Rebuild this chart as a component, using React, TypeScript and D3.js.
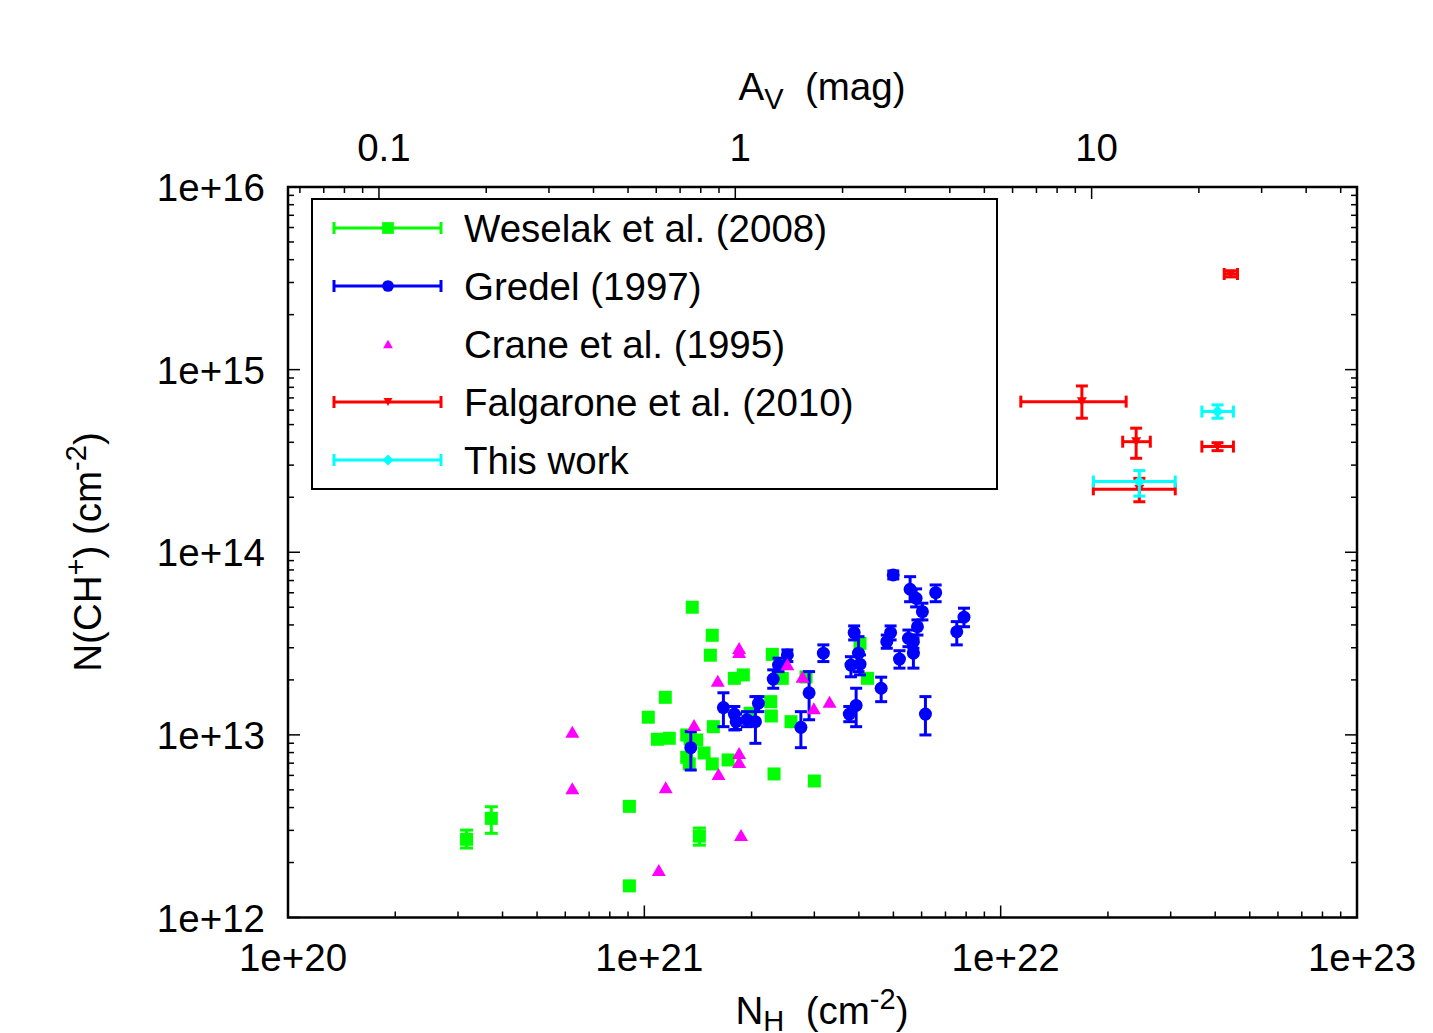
import React from 'react';
import * as d3 from 'd3';

const AV_FACTOR = 1.8e21; // N_H per magnitude of A_V

// Axis tick labels
const xMajor = [1e20, 1e21, 1e22, 1e23];
const xMajorLabels = ['1e+20', '1e+21', '1e+22', '1e+23'];
const yMajor = [1e12, 1e13, 1e14, 1e15, 1e16];
const yMajorLabels = ['1e+12', '1e+13', '1e+14', '1e+15', '1e+16'];
const avMajor = [0.1, 1, 10];
const avMajorLabels = ['0.1', '1', '10'];

// Weselak et al. (2008): [N_H, N(CH+), yLow, yHigh]
const weselak = [
  [3.17e20, 2.68e12, 2.4e12, 3.01e12],
  [3.72e20, 3.49e12, 2.89e12, 4.04e12],
  [9.08e20, 4.06e12],
  [9.08e20, 1.49e12],
  [1.026e21, 1.249e13],
  [1.088e21, 9.46e12],
  [1.175e21, 9.58e12],
  [1.145e21, 1.606e13],
  [1.363e21, 5.0e13],
  [1.551e21, 3.51e13],
  [1.532e21, 2.73e13],
  [1.344e21, 9.5e12],
  [1.315e21, 7.54e12],
  [1.337e21, 6.93e12],
  [1.315e21, 9.99e12],
  [1.403e21, 9.38e12],
  [1.471e21, 7.96e12],
  [1.562e21, 1.109e13],
  [1.551e21, 6.93e12],
  [1.718e21, 7.29e12],
  [1.789e21, 2.04e13],
  [1.896e21, 2.13e13],
  [1.98e21, 1.313e13],
  [1.427e21, 2.79e12, 2.49e12, 3.09e12],
  [2.263e21, 1.52e13],
  [2.272e21, 1.269e13],
  [2.287e21, 2.76e13],
  [2.439e21, 2.04e13],
  [2.312e21, 6.11e12],
  [2.58e21, 1.181e13],
  [2.843e21, 2.075e13],
  [3.0e21, 5.59e12],
  [4.03e21, 3.17e13],
  [4.23e21, 2.04e13],
];

// Gredel (1997): [N_H, N(CH+), yLow, yHigh]
const gredel = [
  [4.996e21, 7.51e13, 7.14e13, 7.9e13],
  [5.57e21, 6.27e13, 5.36e13, 7.35e13],
  [5.79e21, 5.6e13, 5.02e13, 6.3e13],
  [6.57e21, 6.01e13, 5.36e13, 6.62e13],
  [6.03e21, 4.73e13, 4.26e13, 5.26e13],
  [5.84e21, 3.91e13, 3.52e13, 4.26e13],
  [7.89e21, 4.41e13, 3.91e13, 4.94e13],
  [7.53e21, 3.67e13, 3.11e13, 4.17e13],
  [3.88e21, 3.63e13, 3.31e13, 3.95e13],
  [4.91e21, 3.63e13, 3.31e13, 3.95e13],
  [4.79e21, 3.24e13, 2.98e13, 3.52e13],
  [5.51e21, 3.38e13, 3.04e13, 3.75e13],
  [5.69e21, 3.24e13, 2.98e13, 3.52e13],
  [5.69e21, 2.8e13, 2.32e13, 3.38e13],
  [5.2e21, 2.6e13, 2.32e13, 2.89e13],
  [3.99e21, 2.8e13, 2.22e13, 3.45e13],
  [3.8e21, 2.41e13, 2.08e13, 2.68e13],
  [4.03e21, 2.44e13, 2.13e13, 2.74e13],
  [3.18e21, 2.8e13, 2.52e13, 3.11e13],
  [2.52e21, 2.74e13, 2.52e13, 2.92e13],
  [2.38e21, 2.41e13, 2.22e13, 2.63e13],
  [2.3e21, 2.02e13, 1.8e13, 2.27e13],
  [4.62e21, 1.8e13, 1.52e13, 2.07e13],
  [2.9e21, 1.7e13, 1.21e13, 2.22e13],
  [3.93e21, 1.45e13, 1.109e13, 1.8e13],
  [3.76e21, 1.3e13, 1.181e13, 1.43e13],
  [6.15e21, 1.3e13, 9.99e12, 1.62e13],
  [2.75e21, 1.1e13, 8.51e12, 1.34e13],
  [1.667e21, 1.41e13, 1.109e13, 1.7e13],
  [1.789e21, 1.3e13, 1.064e13, 1.43e13],
  [1.81e21, 1.181e13, 1.07e13, 1.3e13],
  [1.94e21, 1.21e13, 1.109e13, 1.34e13],
  [2.05e21, 1.181e13, 8.99e12, 1.62e13],
  [2.09e21, 1.49e13, 1.34e13, 1.62e13],
  [1.35e21, 8.51e12, 6.42e12, 1.041e13],
];

// Crane et al. (1995): [N_H, N(CH+)]
const crane = [
  [6.28e20, 1.041e13],
  [6.28e20, 5.1e12],
  [1.098e21, 1.82e12],
  [1.148e21, 5.16e12],
  [1.379e21, 1.133e13],
  [1.607e21, 1.98e13],
  [1.615e21, 6.11e12],
  [1.845e21, 2.99e13],
  [1.845e21, 2.84e13],
  [1.845e21, 7.96e12],
  [1.845e21, 7.11e12],
  [1.868e21, 2.83e12],
  [2.52e21, 2.44e13],
  [2.78e21, 2.08e13],
  [2.99e21, 1.4e13],
  [3.31e21, 1.52e13],
];

// Falgarone et al. (2010): [N_H, N(CH+), xLow, xHigh, yLow, yHigh]
const falgarone = [
  [4.42e22, 3.34e15, 4.24e22, 4.62e22, 3.22e15, 3.47e15],
  [1.69e22, 6.68e14, 1.139e22, 2.25e22, 5.42e14, 8.14e14],
  [2.4e22, 4.03e14, 2.2e22, 2.63e22, 3.27e14, 4.78e14],
  [4.06e22, 3.79e14, 3.67e22, 4.5e22, 3.6e14, 3.98e14],
  [2.45e22, 2.21e14, 1.82e22, 3.09e22, 1.89e14, 2.54e14],
];

// This work: [N_H, N(CH+), xLow, xHigh, yLow, yHigh]
const thisWork = [
  [4.06e22, 5.89e14, 3.67e22, 4.5e22, 5.42e14, 6.41e14],
  [2.45e22, 2.44e14, 1.82e22, 3.09e22, 2.03e14, 2.8e14],
];

const legendLabels = [
  'Weselak et al. (2008)',
  'Gredel (1997)',
  'Crane et al. (1995)',
  'Falgarone et al. (2010)',
  'This work',
];

const GREEN = '#00ff00';
const BLUE = '#0000ff';
const MAGENTA = '#ff00ff';
const RED = '#ff0000';
const CYAN = '#00ffff';

const FONT = "'Liberation Sans', Arial, Helvetica, sans-serif";
const FS = 38.5;
const SUB = 29;
const NB = '\u00a0';

type Shape = 'square' | 'circle' | 'triUp' | 'triDown' | 'diamond';

function Marker({ cx, cy, shape, color, s = 1 }: { cx: number; cy: number; shape: Shape; color: string; s?: number }) {
  if (shape === 'square') {
    const h = 6.5 * s;
    return <rect x={cx - h} y={cy - h} width={2 * h} height={2 * h} fill={color} />;
  }
  if (shape === 'circle') return <circle cx={cx} cy={cy} r={6.5 * s} fill={color} />;
  if (shape === 'triUp') {
    const w = 7 * s, h = 6 * s;
    return <path d={`M${cx - w},${cy + h}L${cx + w},${cy + h}L${cx},${cy - h}Z`} fill={color} />;
  }
  if (shape === 'triDown') {
    const w = 5 * s, h = 4.5 * s;
    return <path d={`M${cx - w},${cy - h}L${cx + w},${cy - h}L${cx},${cy + h}Z`} fill={color} />;
  }
  const d = 6 * s;
  return <path d={`M${cx},${cy - d}L${cx + d},${cy}L${cx},${cy + d}L${cx - d},${cy}Z`} fill={color} />;
}

export default function App() {
  const x = d3.scaleLog().domain([1e20, 1e23]).range([288, 1357]);
  const x2 = d3.scaleLog().domain([1e20 / AV_FACTOR, 1e23 / AV_FACTOR]).range([288, 1357]);
  const y = d3.scaleLog().domain([1e12, 1e16]).range([917.5, 187]);

  const [x0, x1] = x.range();
  const [yb, yt] = y.range();
  const isMajor = (v: number) => Math.abs(Math.log10(v) - Math.round(Math.log10(v))) < 1e-9;
  const MAJ = 12, MIN = 6;
  const SW = 3; // error bar stroke
  const CAP = 6;
  const LBL_DX = 5;

  const xTicks = x.ticks();
  const yTicks = y.ticks();
  const avTicks = x2.ticks().filter((v) => x2(v) >= x0 - 0.5 && x2(v) <= x1 + 0.5);

  const vErr = (px: number, lo: number, hi: number, color: string, cap = CAP, key?: string) => (
    <g key={key} stroke={color} strokeWidth={SW}>
      <line x1={px} x2={px} y1={y(lo)} y2={y(hi)} />
      <line x1={px - cap} x2={px + cap} y1={y(lo)} y2={y(lo)} />
      <line x1={px - cap} x2={px + cap} y1={y(hi)} y2={y(hi)} />
    </g>
  );
  const hErr = (py: number, lo: number, hi: number, color: string, key?: string) => (
    <g key={key} stroke={color} strokeWidth={SW}>
      <line x1={x(lo)} x2={x(hi)} y1={py} y2={py} />
      <line x1={x(lo)} x2={x(lo)} y1={py - CAP} y2={py + CAP} />
      <line x1={x(hi)} x2={x(hi)} y1={py - CAP} y2={py + CAP} />
    </g>
  );

  const legendColors = [GREEN, BLUE, MAGENTA, RED, CYAN];
  const legendShapes: Shape[] = ['square', 'circle', 'triUp', 'triDown', 'diamond'];

  return (
    <div style={{ position: 'absolute', left: 0, top: 0 }}>
      <svg width={1433} height={1033} style={{ display: 'block', fontFamily: FONT }}>
        <rect width={1433} height={1033} fill="#fff" />

        {/* ticks */}
        <g stroke="#000" strokeWidth={1.5}>
          {xTicks.map((v, i) => {
            const L = isMajor(v) ? MAJ : MIN;
            return <line key={'xb' + i} x1={x(v)} x2={x(v)} y1={yb} y2={yb - L} />;
          })}
          {avTicks.map((v, i) => {
            const L = isMajor(v) ? MAJ : MIN;
            return <line key={'xt' + i} x1={x2(v)} x2={x2(v)} y1={yt} y2={yt + L} />;
          })}
          {yTicks.map((v, i) => {
            const L = isMajor(v) ? MAJ : MIN;
            return (
              <g key={'y' + i}>
                <line x1={x0} x2={x0 + L} y1={y(v)} y2={y(v)} />
                <line x1={x1} x2={x1 - L} y1={y(v)} y2={y(v)} />
              </g>
            );
          })}
        </g>

        {/* tick labels */}
        <g fontSize={FS} fill="#000">
          {xMajor.map((v, i) => (
            <text key={'xl' + i} x={x(v) + LBL_DX} y={971} textAnchor="middle">{xMajorLabels[i]}</text>
          ))}
          {avMajor.map((v, i) => (
            <text key={'al' + i} x={x2(v) + LBL_DX} y={161} textAnchor="middle">{avMajorLabels[i]}</text>
          ))}
          {yMajor.map((v, i) => (
            <text key={'yl' + i} x={265} y={y(v) + 14} textAnchor="end">{yMajorLabels[i]}</text>
          ))}
        </g>

        {/* axis titles */}
        <g fontSize={FS} fill="#000">
          <text x={822} y={1024} textAnchor="middle">
            N<tspan fontSize={SUB} dy={7}>H</tspan>
            <tspan dy={-7}>{NB + NB + '(cm'}</tspan>
            <tspan fontSize={SUB} dy={-15}>-2</tspan>
            <tspan dy={15}>)</tspan>
          </text>
          <text x={822} y={100} textAnchor="middle">
            A<tspan fontSize={SUB} dy={9}>V</tspan>
            <tspan dy={-9}>{NB + NB + '(mag)'}</tspan>
          </text>
          <text transform="translate(101,552) rotate(-90)" textAnchor="middle">
            N(CH<tspan fontSize={SUB} dy={-15}>+</tspan>
            <tspan dy={15}>{')' + NB + '(cm'}</tspan>
            <tspan fontSize={SUB} dy={-15}>-2</tspan>
            <tspan dy={15}>)</tspan>
          </text>
        </g>

        {/* Weselak */}
        <g>
          {weselak.map((d, i) =>
            d.length > 2 ? vErr(x(d[0]), d[2], d[3], GREEN, 6.5, 'we' + i) : null
          )}
          {weselak.map((d, i) => (
            <Marker key={'wm' + i} cx={x(d[0])} cy={y(d[1])} shape="square" color={GREEN} />
          ))}
        </g>

        {/* Gredel */}
        <g>
          {gredel.map((d, i) => vErr(x(d[0]), d[2], d[3], BLUE, CAP, 'ge' + i))}
          {gredel.map((d, i) => (
            <Marker key={'gm' + i} cx={x(d[0])} cy={y(d[1])} shape="circle" color={BLUE} />
          ))}
        </g>

        {/* Crane */}
        <g>
          {crane.map((d, i) => (
            <Marker key={'cm' + i} cx={x(d[0])} cy={y(d[1])} shape="triUp" color={MAGENTA} />
          ))}
        </g>

        {/* Falgarone */}
        <g>
          {falgarone.map((d, i) => (
            <g key={'f' + i}>
              {hErr(y(d[1]), d[2], d[3], RED)}
              {vErr(x(d[0]), d[4], d[5], RED)}
              <Marker cx={x(d[0])} cy={y(d[1])} shape="triDown" color={RED} />
            </g>
          ))}
        </g>

        {/* This work */}
        <g>
          {thisWork.map((d, i) => (
            <g key={'t' + i}>
              {hErr(y(d[1]), d[2], d[3], CYAN)}
              {vErr(x(d[0]), d[4], d[5], CYAN)}
              <Marker cx={x(d[0])} cy={y(d[1])} shape="diamond" color={CYAN} />
            </g>
          ))}
        </g>

        {/* legend */}
        <rect x={312} y={199} width={685} height={290} fill="none" stroke="#000" strokeWidth={2} />
        {legendLabels.map((lab, i) => {
          const ry = 228 + i * 58;
          const color = legendColors[i];
          return (
            <g key={'lg' + i}>
              {i !== 2 && (
                <g stroke={color} strokeWidth={SW}>
                  <line x1={334} x2={441} y1={ry} y2={ry} />
                  <line x1={334} x2={334} y1={ry - CAP} y2={ry + CAP} />
                  <line x1={441} x2={441} y1={ry - CAP} y2={ry + CAP} />
                </g>
              )}
              <Marker cx={388} cy={ry} shape={legendShapes[i]} color={color} s={i === 2 ? 0.7 : 0.9} />
              <text x={464} y={ry + 14} fontSize={FS} fill="#000">{lab}</text>
            </g>
          );
        })}

        {/* frame */}
        <rect x={x0} y={yt} width={x1 - x0} height={yb - yt} fill="none" stroke="#000" strokeWidth={2.5} />
      </svg>
    </div>
  );
}
